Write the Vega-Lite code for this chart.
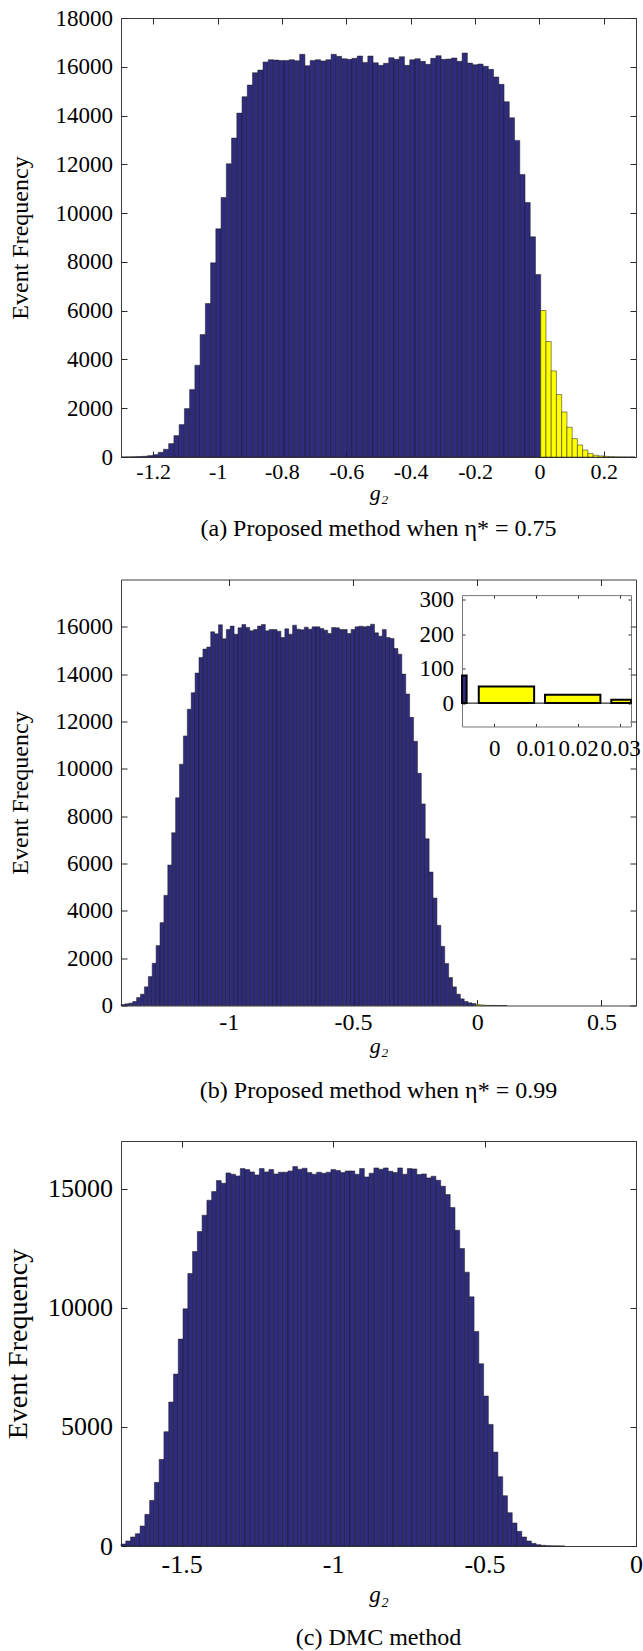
{
"$schema": "https://vega.github.io/schema/vega-lite/v6.json",
"background": "white",
"padding": {"left": 3, "top": 6, "right": 0, "bottom": 0},
"spacing": 36.5,
"config": {
  "view": {"stroke": "#3c3c3c", "strokeWidth": 1},
  "axis": {"grid": false, "domain": false, "ticks": true, "tickSize": -6, "tickColor": "#2a2a2a", "tickWidth": 1, "labelFont": "Liberation Serif", "labelColor": "#000", "titleFont": "Liberation Serif", "titleFontWeight": "normal", "titleColor": "#000", "labelFlush": false, "labelOverlap": false, "zindex": 1},
  "title": {"font": "Liberation Serif", "fontWeight": "normal", "color": "#000"}
},
"datasets": {
"pa": [
{"a":-1.2984,"b":-1.2821,"n":3,"c":"neg"},{"a":-1.2821,"b":-1.2658,"n":6,"c":"neg"},{"a":-1.2658,"b":-1.2496,"n":12,"c":"neg"},{"a":-1.2496,"b":-1.2333,"n":20,"c":"neg"},{"a":-1.2333,"b":-1.2170,"n":30,"c":"neg"},
{"a":-1.2170,"b":-1.2007,"n":57,"c":"neg"},{"a":-1.2007,"b":-1.1844,"n":98,"c":"neg"},{"a":-1.1844,"b":-1.1682,"n":193,"c":"neg"},{"a":-1.1682,"b":-1.1519,"n":316,"c":"neg"},{"a":-1.1519,"b":-1.1356,"n":549,"c":"neg"},
{"a":-1.1356,"b":-1.1193,"n":877,"c":"neg"},{"a":-1.1193,"b":-1.1030,"n":1328,"c":"neg"},{"a":-1.1030,"b":-1.0868,"n":1985,"c":"neg"},{"a":-1.0868,"b":-1.0705,"n":2764,"c":"neg"},{"a":-1.0705,"b":-1.0542,"n":3762,"c":"neg"},
{"a":-1.0542,"b":-1.0379,"n":5020,"c":"neg"},{"a":-1.0379,"b":-1.0216,"n":6292,"c":"neg"},{"a":-1.0216,"b":-1.0054,"n":7960,"c":"neg"},{"a":-1.0054,"b":-0.9891,"n":9355,"c":"neg"},{"a":-0.9891,"b":-0.9728,"n":10640,"c":"neg"},
{"a":-0.9728,"b":-0.9565,"n":12023,"c":"neg"},{"a":-0.9565,"b":-0.9402,"n":13077,"c":"neg"},{"a":-0.9402,"b":-0.9240,"n":14100,"c":"neg"},{"a":-0.9240,"b":-0.9077,"n":14772,"c":"neg"},{"a":-0.9077,"b":-0.8914,"n":15250,"c":"neg"},
{"a":-0.8914,"b":-0.8751,"n":15756,"c":"neg"},{"a":-0.8751,"b":-0.8588,"n":15865,"c":"neg"},{"a":-0.8588,"b":-0.8426,"n":16195,"c":"neg"},{"a":-0.8426,"b":-0.8263,"n":16290,"c":"neg"},{"a":-0.8263,"b":-0.8100,"n":16275,"c":"neg"},
{"a":-0.8100,"b":-0.7937,"n":16260,"c":"neg"},{"a":-0.7937,"b":-0.7774,"n":16260,"c":"neg"},{"a":-0.7774,"b":-0.7612,"n":16290,"c":"neg"},{"a":-0.7612,"b":-0.7449,"n":16250,"c":"neg"},{"a":-0.7449,"b":-0.7286,"n":16510,"c":"neg"},
{"a":-0.7286,"b":-0.7123,"n":16045,"c":"neg"},{"a":-0.7123,"b":-0.6960,"n":16260,"c":"neg"},{"a":-0.6960,"b":-0.6798,"n":16290,"c":"neg"},{"a":-0.6798,"b":-0.6635,"n":16235,"c":"neg"},{"a":-0.6635,"b":-0.6472,"n":16290,"c":"neg"},
{"a":-0.6472,"b":-0.6309,"n":16510,"c":"neg"},{"a":-0.6309,"b":-0.6146,"n":16428,"c":"neg"},{"a":-0.6146,"b":-0.5984,"n":16330,"c":"neg"},{"a":-0.5984,"b":-0.5821,"n":16305,"c":"neg"},{"a":-0.5821,"b":-0.5658,"n":16345,"c":"neg"},
{"a":-0.5658,"b":-0.5495,"n":16440,"c":"neg"},{"a":-0.5495,"b":-0.5332,"n":16180,"c":"neg"},{"a":-0.5332,"b":-0.5170,"n":16440,"c":"neg"},{"a":-0.5170,"b":-0.5007,"n":16165,"c":"neg"},{"a":-0.5007,"b":-0.4844,"n":16058,"c":"neg"},
{"a":-0.4844,"b":-0.4681,"n":16140,"c":"neg"},{"a":-0.4681,"b":-0.4518,"n":16371,"c":"neg"},{"a":-0.4518,"b":-0.4356,"n":16304,"c":"neg"},{"a":-0.4356,"b":-0.4193,"n":16412,"c":"neg"},{"a":-0.4193,"b":-0.4030,"n":16058,"c":"neg"},
{"a":-0.4030,"b":-0.3867,"n":16290,"c":"neg"},{"a":-0.3867,"b":-0.3704,"n":16330,"c":"neg"},{"a":-0.3704,"b":-0.3542,"n":16222,"c":"neg"},{"a":-0.3542,"b":-0.3379,"n":16100,"c":"neg"},{"a":-0.3379,"b":-0.3216,"n":16345,"c":"neg"},
{"a":-0.3216,"b":-0.3053,"n":16453,"c":"neg"},{"a":-0.3053,"b":-0.2890,"n":16304,"c":"neg"},{"a":-0.2890,"b":-0.2728,"n":16318,"c":"neg"},{"a":-0.2728,"b":-0.2565,"n":16360,"c":"neg"},{"a":-0.2565,"b":-0.2402,"n":16222,"c":"neg"},
{"a":-0.2402,"b":-0.2239,"n":16564,"c":"neg"},{"a":-0.2239,"b":-0.2076,"n":16150,"c":"neg"},{"a":-0.2076,"b":-0.1914,"n":16085,"c":"neg"},{"a":-0.1914,"b":-0.1751,"n":16112,"c":"neg"},{"a":-0.1751,"b":-0.1588,"n":16018,"c":"neg"},
{"a":-0.1588,"b":-0.1425,"n":15894,"c":"neg"},{"a":-0.1425,"b":-0.1262,"n":15579,"c":"neg"},{"a":-0.1262,"b":-0.1100,"n":15279,"c":"neg"},{"a":-0.1100,"b":-0.0937,"n":14566,"c":"neg"},{"a":-0.0937,"b":-0.0774,"n":13909,"c":"neg"},
{"a":-0.0774,"b":-0.0611,"n":12982,"c":"neg"},{"a":-0.0611,"b":-0.0448,"n":11587,"c":"neg"},{"a":-0.0448,"b":-0.0286,"n":10438,"c":"neg"},{"a":-0.0286,"b":-0.0123,"n":9027,"c":"neg"},{"a":-0.0123,"b":0.0040,"n":7484,"c":"neg"},
{"a":0.0040,"b":0.0203,"n":6007,"c":"pos"},{"a":0.0203,"b":0.0366,"n":4735,"c":"pos"},{"a":0.0366,"b":0.0528,"n":3529,"c":"pos"},{"a":0.0528,"b":0.0691,"n":2560,"c":"pos"},{"a":0.0691,"b":0.0854,"n":1846,"c":"pos"},
{"a":0.0854,"b":0.1017,"n":1219,"c":"pos"},{"a":0.1017,"b":0.1180,"n":755,"c":"pos"},{"a":0.1180,"b":0.1342,"n":492,"c":"pos"},{"a":0.1342,"b":0.1505,"n":287,"c":"pos"},{"a":0.1505,"b":0.1668,"n":140,"c":"pos"},
{"a":0.1668,"b":0.1831,"n":70,"c":"pos"},{"a":0.1831,"b":0.1994,"n":45,"c":"pos"},{"a":0.1994,"b":0.2156,"n":25,"c":"pos"},{"a":0.2156,"b":0.2319,"n":15,"c":"pos"},{"a":0.2319,"b":0.2482,"n":8,"c":"pos"},
{"a":0.2482,"b":0.2645,"n":5,"c":"pos"},{"a":0.2645,"b":0.2808,"n":3,"c":"pos"},{"a":0.2808,"b":0.2970,"n":2,"c":"pos"}
],
"pb": [
{"a":-1.4340,"b":-1.4183,"n":42,"c":"neg"},{"a":-1.4183,"b":-1.4026,"n":70,"c":"neg"},{"a":-1.4026,"b":-1.3869,"n":98,"c":"neg"},{"a":-1.3869,"b":-1.3712,"n":169,"c":"neg"},{"a":-1.3712,"b":-1.3555,"n":337,"c":"neg"},
{"a":-1.3555,"b":-1.3398,"n":478,"c":"neg"},{"a":-1.3398,"b":-1.3241,"n":787,"c":"neg"},{"a":-1.3241,"b":-1.3084,"n":1223,"c":"neg"},{"a":-1.3084,"b":-1.2927,"n":1786,"c":"neg"},{"a":-1.2927,"b":-1.2770,"n":2531,"c":"neg"},
{"a":-1.2770,"b":-1.2613,"n":3501,"c":"neg"},{"a":-1.2613,"b":-1.2456,"n":4654,"c":"neg"},{"a":-1.2456,"b":-1.2299,"n":5934,"c":"neg"},{"a":-1.2299,"b":-1.2142,"n":7298,"c":"neg"},{"a":-1.2142,"b":-1.1985,"n":8775,"c":"neg"},
{"a":-1.1985,"b":-1.1828,"n":10195,"c":"neg"},{"a":-1.1828,"b":-1.1671,"n":11390,"c":"neg"},{"a":-1.1671,"b":-1.1514,"n":12515,"c":"neg"},{"a":-1.1514,"b":-1.1357,"n":13217,"c":"neg"},{"a":-1.1357,"b":-1.1200,"n":14047,"c":"neg"},
{"a":-1.1200,"b":-1.1043,"n":14708,"c":"neg"},{"a":-1.1043,"b":-1.0886,"n":15060,"c":"neg"},{"a":-1.0886,"b":-1.0729,"n":15144,"c":"neg"},{"a":-1.0729,"b":-1.0572,"n":15790,"c":"neg"},{"a":-1.0572,"b":-1.0415,"n":15705,"c":"neg"},
{"a":-1.0415,"b":-1.0258,"n":16085,"c":"neg"},{"a":-1.0258,"b":-1.0101,"n":15494,"c":"neg"},{"a":-1.0101,"b":-0.9944,"n":15888,"c":"neg"},{"a":-0.9944,"b":-0.9787,"n":16030,"c":"neg"},{"a":-0.9787,"b":-0.9630,"n":15691,"c":"neg"},
{"a":-0.9630,"b":-0.9473,"n":15958,"c":"neg"},{"a":-0.9473,"b":-0.9316,"n":16100,"c":"neg"},{"a":-0.9316,"b":-0.9159,"n":15972,"c":"neg"},{"a":-0.9159,"b":-0.9002,"n":15832,"c":"neg"},{"a":-0.9002,"b":-0.8845,"n":15888,"c":"neg"},
{"a":-0.8845,"b":-0.8688,"n":16030,"c":"neg"},{"a":-0.8688,"b":-0.8531,"n":16100,"c":"neg"},{"a":-0.8531,"b":-0.8374,"n":15832,"c":"neg"},{"a":-0.8374,"b":-0.8217,"n":15888,"c":"neg"},{"a":-0.8217,"b":-0.8060,"n":15888,"c":"neg"},
{"a":-0.8060,"b":-0.7903,"n":15818,"c":"neg"},{"a":-0.7903,"b":-0.7746,"n":15550,"c":"neg"},{"a":-0.7746,"b":-0.7589,"n":15916,"c":"neg"},{"a":-0.7589,"b":-0.7432,"n":15691,"c":"neg"},{"a":-0.7432,"b":-0.7275,"n":16070,"c":"neg"},
{"a":-0.7275,"b":-0.7118,"n":15902,"c":"neg"},{"a":-0.7118,"b":-0.6961,"n":15874,"c":"neg"},{"a":-0.6961,"b":-0.6804,"n":15986,"c":"neg"},{"a":-0.6804,"b":-0.6647,"n":15902,"c":"neg"},{"a":-0.6647,"b":-0.6490,"n":15999,"c":"neg"},
{"a":-0.6490,"b":-0.6333,"n":15999,"c":"neg"},{"a":-0.6333,"b":-0.6176,"n":15928,"c":"neg"},{"a":-0.6176,"b":-0.6019,"n":15858,"c":"neg"},{"a":-0.6019,"b":-0.5862,"n":15718,"c":"neg"},{"a":-0.5862,"b":-0.5705,"n":15971,"c":"neg"},
{"a":-0.5705,"b":-0.5548,"n":15957,"c":"neg"},{"a":-0.5548,"b":-0.5391,"n":15886,"c":"neg"},{"a":-0.5391,"b":-0.5234,"n":15886,"c":"neg"},{"a":-0.5234,"b":-0.5077,"n":15718,"c":"neg"},{"a":-0.5077,"b":-0.4920,"n":15886,"c":"neg"},
{"a":-0.4920,"b":-0.4763,"n":15999,"c":"neg"},{"a":-0.4763,"b":-0.4606,"n":16027,"c":"neg"},{"a":-0.4606,"b":-0.4449,"n":15999,"c":"neg"},{"a":-0.4449,"b":-0.4292,"n":16027,"c":"neg"},{"a":-0.4292,"b":-0.4135,"n":16111,"c":"neg"},
{"a":-0.4135,"b":-0.3978,"n":15746,"c":"neg"},{"a":-0.3978,"b":-0.3821,"n":15605,"c":"neg"},{"a":-0.3821,"b":-0.3664,"n":15886,"c":"neg"},{"a":-0.3664,"b":-0.3507,"n":15549,"c":"neg"},{"a":-0.3507,"b":-0.3350,"n":15506,"c":"neg"},
{"a":-0.3350,"b":-0.3193,"n":15084,"c":"neg"},{"a":-0.3193,"b":-0.3036,"n":14846,"c":"neg"},{"a":-0.3036,"b":-0.2879,"n":14004,"c":"neg"},{"a":-0.2879,"b":-0.2722,"n":13160,"c":"neg"},{"a":-0.2722,"b":-0.2565,"n":12175,"c":"neg"},
{"a":-0.2565,"b":-0.2408,"n":11162,"c":"neg"},{"a":-0.2408,"b":-0.2251,"n":9812,"c":"neg"},{"a":-0.2251,"b":-0.2094,"n":8519,"c":"neg"},{"a":-0.2094,"b":-0.1937,"n":7044,"c":"neg"},{"a":-0.1937,"b":-0.1780,"n":5638,"c":"neg"},
{"a":-0.1780,"b":-0.1623,"n":4540,"c":"neg"},{"a":-0.1623,"b":-0.1466,"n":3387,"c":"neg"},{"a":-0.1466,"b":-0.1309,"n":2501,"c":"neg"},{"a":-0.1309,"b":-0.1152,"n":1772,"c":"neg"},{"a":-0.1152,"b":-0.0995,"n":1181,"c":"neg"},
{"a":-0.0995,"b":-0.0838,"n":786,"c":"neg"},{"a":-0.0838,"b":-0.0681,"n":478,"c":"neg"},{"a":-0.0681,"b":-0.0524,"n":280,"c":"neg"},{"a":-0.0524,"b":-0.0367,"n":169,"c":"neg"},{"a":-0.0367,"b":-0.0210,"n":112,"c":"neg"},
{"a":-0.0210,"b":-0.0053,"n":80,"c":"neg"},{"a":-0.0053,"b":0.0104,"n":48,"c":"pos"},{"a":0.0104,"b":0.0261,"n":24,"c":"pos"},{"a":0.0261,"b":0.0418,"n":10,"c":"pos"},{"a":0.0418,"b":0.0575,"n":5,"c":"pos"},
{"a":0.0575,"b":0.0732,"n":3,"c":"pos"},{"a":0.0732,"b":0.0889,"n":2,"c":"pos"},{"a":0.0889,"b":0.1046,"n":1,"c":"pos"},{"a":0.1046,"b":0.1203,"n":1,"c":"pos"}
],
"inset": [
{"a":-0.0198,"b":-0.0066,"n":80,"c":"neg"},{"a":-0.0037,"b":0.0095,"n":48,"c":"pos"},{"a":0.0121,"b":0.0253,"n":24,"c":"pos"},{"a":0.0279,"b":0.0411,"n":10,"c":"pos"}
],
"pc": [
{"a":-1.7000,"b":-1.6843,"n":84},{"a":-1.6843,"b":-1.6685,"n":210},{"a":-1.6685,"b":-1.6528,"n":378},{"a":-1.6528,"b":-1.6370,"n":517},{"a":-1.6370,"b":-1.6213,"n":839},
{"a":-1.6213,"b":-1.6055,"n":1328},{"a":-1.6055,"b":-1.5898,"n":1915},{"a":-1.5898,"b":-1.5740,"n":2671},{"a":-1.5740,"b":-1.5583,"n":3636},{"a":-1.5583,"b":-1.5425,"n":4797},
{"a":-1.5425,"b":-1.5268,"n":6041},{"a":-1.5268,"b":-1.5110,"n":7215},{"a":-1.5110,"b":-1.4953,"n":8684},{"a":-1.4953,"b":-1.4795,"n":9956},{"a":-1.4795,"b":-1.4638,"n":11438},
{"a":-1.4638,"b":-1.4480,"n":12361},{"a":-1.4480,"b":-1.4323,"n":13200},{"a":-1.4323,"b":-1.4165,"n":13885},{"a":-1.4165,"b":-1.4008,"n":14515},{"a":-1.4008,"b":-1.3850,"n":14878},
{"a":-1.3850,"b":-1.3693,"n":15340},{"a":-1.3693,"b":-1.3535,"n":15228},{"a":-1.3535,"b":-1.3378,"n":15662},{"a":-1.3378,"b":-1.3220,"n":15605},{"a":-1.3220,"b":-1.3063,"n":15536},
{"a":-1.3063,"b":-1.2905,"n":15843},{"a":-1.2905,"b":-1.2748,"n":15800},{"a":-1.2748,"b":-1.2590,"n":15703},{"a":-1.2590,"b":-1.2433,"n":15578},{"a":-1.2433,"b":-1.2275,"n":15843},
{"a":-1.2275,"b":-1.2118,"n":15703},{"a":-1.2118,"b":-1.1960,"n":15800},{"a":-1.1960,"b":-1.1803,"n":15620},{"a":-1.1803,"b":-1.1645,"n":15690},{"a":-1.1645,"b":-1.1488,"n":15690},
{"a":-1.1488,"b":-1.1330,"n":15745},{"a":-1.1330,"b":-1.1173,"n":15927},{"a":-1.1173,"b":-1.1015,"n":15815},{"a":-1.1015,"b":-1.0858,"n":15857},{"a":-1.0858,"b":-1.0700,"n":15675},
{"a":-1.0700,"b":-1.0543,"n":15605},{"a":-1.0543,"b":-1.0385,"n":15690},{"a":-1.0385,"b":-1.0228,"n":15648},{"a":-1.0228,"b":-1.0070,"n":15690},{"a":-1.0070,"b":-0.9913,"n":15800},
{"a":-0.9913,"b":-0.9755,"n":15760},{"a":-0.9755,"b":-0.9598,"n":15675},{"a":-0.9598,"b":-0.9440,"n":15745},{"a":-0.9440,"b":-0.9283,"n":15745},{"a":-0.9283,"b":-0.9125,"n":15605},
{"a":-0.9125,"b":-0.8968,"n":15843},{"a":-0.8968,"b":-0.8810,"n":15492},{"a":-0.8810,"b":-0.8653,"n":15647},{"a":-0.8653,"b":-0.8495,"n":15870},{"a":-0.8495,"b":-0.8338,"n":15815},
{"a":-0.8338,"b":-0.8180,"n":15870},{"a":-0.8180,"b":-0.8023,"n":15731},{"a":-0.8023,"b":-0.7865,"n":15675},{"a":-0.7865,"b":-0.7708,"n":15870},{"a":-0.7708,"b":-0.7550,"n":15605},
{"a":-0.7550,"b":-0.7393,"n":15843},{"a":-0.7393,"b":-0.7235,"n":15829},{"a":-0.7235,"b":-0.7078,"n":15592},{"a":-0.7078,"b":-0.6920,"n":15620},{"a":-0.6920,"b":-0.6763,"n":15452},
{"a":-0.6763,"b":-0.6605,"n":15522},{"a":-0.6605,"b":-0.6448,"n":15354},{"a":-0.6448,"b":-0.6290,"n":15103},{"a":-0.6290,"b":-0.6133,"n":14753},{"a":-0.6133,"b":-0.5975,"n":14207},
{"a":-0.5975,"b":-0.5818,"n":13256},{"a":-0.5818,"b":-0.5660,"n":12487},{"a":-0.5660,"b":-0.5503,"n":11494},{"a":-0.5503,"b":-0.5345,"n":10459},{"a":-0.5345,"b":-0.5188,"n":9005},
{"a":-0.5188,"b":-0.5030,"n":7649},{"a":-0.5030,"b":-0.4873,"n":6292},{"a":-0.4873,"b":-0.4715,"n":5104},{"a":-0.4715,"b":-0.4558,"n":3943},{"a":-0.4558,"b":-0.4400,"n":2909},
{"a":-0.4400,"b":-0.4243,"n":2111},{"a":-0.4243,"b":-0.4085,"n":1398},{"a":-0.4085,"b":-0.3928,"n":965},{"a":-0.3928,"b":-0.3770,"n":615},{"a":-0.3770,"b":-0.3613,"n":378},
{"a":-0.3613,"b":-0.3455,"n":210},{"a":-0.3455,"b":-0.3298,"n":112},{"a":-0.3298,"b":-0.3140,"n":56},{"a":-0.3140,"b":-0.2983,"n":28},{"a":-0.2983,"b":-0.2825,"n":14},
{"a":-0.2825,"b":-0.2668,"n":7},{"a":-0.2668,"b":-0.2510,"n":3},{"a":-0.2510,"b":-0.2353,"n":1}
]
},
"vconcat": [
{
  "width": 515, "height": 439,
  "data": {"name": "pa"},
  "title": {"text": "(a) Proposed method when η* = 0.75", "orient": "bottom", "frame": "group", "anchor": "middle", "fontSize": 24, "offset": 14.2},
  "layer": [
    {
      "mark": {"type": "bar", "stroke": "#1c1c1c", "strokeWidth": 0.5},
      "encoding": {
        "x": {"field": "a", "type": "quantitative", "scale": {"domain": [-1.3, 0.3], "nice": false, "zero": false},
          "axis": {"orient": "bottom", "values": [-1.2, -1, -0.8, -0.6, -0.4, -0.2, 0, 0.2], "labelExpr": "'' + datum.value", "labelFontSize": 22, "labelPadding": 10, "title": "g₂", "titleFontSize": 22, "titleFontStyle": "italic", "titlePadding": 0}},
        "x2": {"field": "b"},
        "y": {"field": "n", "type": "quantitative", "stack": null, "scale": {"domain": [0, 18000], "nice": false},
          "axis": {"orient": "left", "values": [0, 2000, 4000, 6000, 8000, 10000, 12000, 14000, 16000, 18000], "labelExpr": "'' + datum.value", "labelFontSize": 23, "labelPadding": 14.5, "title": "Event Frequency", "titleFontSize": 24, "titlePadding": 23}},
        "y2": {"datum": 0},
        "color": {"field": "c", "type": "nominal", "scale": {"domain": ["neg", "pos"], "range": ["#2f2b7d", "#ffff00"]}, "legend": null}
      }
    },
    {
      "mark": {"type": "bar", "opacity": 0},
      "encoding": {
        "x": {"field": "a", "type": "quantitative", "axis": {"orient": "top", "values": [-1.2, -1, -0.8, -0.6, -0.4, -0.2, 0, 0.2], "labels": false, "title": null}},
        "x2": {"field": "b"},
        "y": {"field": "n", "type": "quantitative", "stack": null, "axis": {"orient": "right", "values": [0, 2000, 4000, 6000, 8000, 10000, 12000, 14000, 16000, 18000], "labels": false, "title": null}},
        "y2": {"datum": 0}
      }
    }
  ],
  "resolve": {"axis": {"x": "independent", "y": "independent"}}
},
{
  "width": 515, "height": 426,
  "title": {"text": "(b) Proposed method when η* = 0.99", "orient": "bottom", "frame": "group", "anchor": "middle", "fontSize": 24, "offset": 22.1},
  "layer": [
    {
      "data": {"name": "pb"},
      "layer": [
        {
          "mark": {"type": "bar", "stroke": "#1c1c1c", "strokeWidth": 0.5},
          "encoding": {
            "x": {"field": "a", "type": "quantitative", "scale": {"domain": [-1.434, 0.639], "nice": false, "zero": false},
              "axis": {"orient": "bottom", "values": [-1, -0.5, 0, 0.5], "labelExpr": "'' + datum.value", "labelFontSize": 24, "labelPadding": 10.6, "title": "g₂", "titleFontSize": 22, "titleFontStyle": "italic", "titlePadding": 1.6}},
            "x2": {"field": "b"},
            "y": {"field": "n", "type": "quantitative", "stack": null, "scale": {"domain": [0, 18000], "nice": false},
              "axis": {"orient": "left", "values": [0, 2000, 4000, 6000, 8000, 10000, 12000, 14000, 16000], "labelExpr": "'' + datum.value", "labelFontSize": 23, "labelPadding": 14.5, "title": "Event Frequency", "titleFontSize": 24, "titlePadding": 23}},
            "y2": {"datum": 0},
            "color": {"field": "c", "type": "nominal", "scale": {"domain": ["neg", "pos"], "range": ["#2f2b7d", "#ffff00"]}, "legend": null}
          }
        },
        {
          "mark": {"type": "bar", "opacity": 0},
          "encoding": {
            "x": {"field": "a", "type": "quantitative", "axis": {"orient": "top", "values": [-1, -0.5, 0, 0.5], "labels": false, "title": null}},
            "x2": {"field": "b"},
            "y": {"field": "n", "type": "quantitative", "stack": null, "axis": {"orient": "right", "values": [0, 2000, 4000, 6000, 8000, 10000, 12000, 14000, 16000], "labels": false, "title": null}},
            "y2": {"datum": 0}
          }
        }
      ],
      "resolve": {"axis": {"x": "independent", "y": "independent"}}
    },
    {
      "data": {"name": "inset"},
      "layer": [
        {
          "mark": {"type": "rule", "color": "#000", "strokeWidth": 1},
          "data": {"values": [{"lo": -0.0077, "hi": 0.0326, "zero": 0}]},
          "encoding": {
            "x": {"field": "lo", "type": "quantitative", "scale": {"domain": [-0.0077, 0.0326], "range": [341, 510], "clamp": true, "nice": false, "zero": false}, "axis": null},
            "x2": {"field": "hi"},
            "y": {"field": "zero", "type": "quantitative", "scale": {"domain": [-68, 314], "range": [147, 15.6], "clamp": true, "nice": false, "zero": false}, "axis": null}
          }
        },
        {
          "mark": {"type": "bar", "stroke": "#000", "strokeWidth": 2},
          "encoding": {
            "x": {"field": "a", "type": "quantitative", "scale": {"domain": [-0.0077, 0.0326], "range": [341, 510], "clamp": true, "nice": false, "zero": false},
              "axis": {"orient": "bottom", "offset": -279, "values": [0, 0.01, 0.02, 0.03], "labelExpr": "'' + datum.value", "labelFontSize": 23, "labelPadding": 14, "tickSize": -3, "domain": true, "domainColor": "#777", "title": null}},
            "x2": {"field": "b"},
            "y": {"field": "n", "type": "quantitative", "stack": null, "scale": {"domain": [-68, 314], "range": [147, 15.6], "clamp": true, "nice": false, "zero": false},
              "axis": {"orient": "left", "offset": -341, "values": [0, 100, 200, 300], "labelExpr": "'' + datum.value", "labelFontSize": 23, "labelPadding": 11.5, "tickSize": -3, "domain": true, "domainColor": "#777", "title": null}},
            "y2": {"datum": 0},
            "color": {"field": "c", "type": "nominal", "scale": {"domain": ["neg", "pos"], "range": ["#2f2b7d", "#ffff00"]}, "legend": null}
          }
        },
        {
          "mark": {"type": "bar", "opacity": 0},
          "encoding": {
            "x": {"field": "a", "type": "quantitative", "axis": {"orient": "top", "offset": -15.6, "values": [0, 0.01, 0.02, 0.03], "labels": false, "tickSize": -3, "domain": true, "domainColor": "#777", "title": null}},
            "x2": {"field": "b"},
            "y": {"field": "n", "type": "quantitative", "stack": null, "axis": {"orient": "right", "offset": -5, "values": [0, 100, 200, 300], "labels": false, "tickSize": -3, "domain": true, "domainColor": "#777", "title": null}},
            "y2": {"datum": 0}
          }
        }
      ],
      "resolve": {"axis": {"x": "independent", "y": "independent"}}
    }
  ],
  "resolve": {"scale": {"x": "independent", "y": "independent", "color": "shared"}, "axis": {"x": "independent", "y": "independent"}}
},
{
  "width": 515, "height": 405,
  "data": {"name": "pc"},
  "title": {"text": "(c) DMC method", "orient": "bottom", "frame": "group", "anchor": "middle", "fontSize": 24, "offset": 19.4},
  "layer": [
    {
      "mark": {"type": "bar", "stroke": "#1c1c1c", "strokeWidth": 0.5, "color": "#2f2b7d"},
      "encoding": {
        "x": {"field": "a", "type": "quantitative", "scale": {"domain": [-1.7, 0], "nice": false, "zero": false},
          "axis": {"orient": "bottom", "values": [-1.5, -1, -0.5, 0], "labelExpr": "'' + datum.value", "labelFontSize": 26, "labelPadding": 11, "title": "g₂", "titleFontSize": 23, "titleFontStyle": "italic", "titlePadding": 6.9}},
        "x2": {"field": "b"},
        "y": {"field": "n", "type": "quantitative", "stack": null, "scale": {"domain": [0, 17000], "nice": false},
          "axis": {"orient": "left", "values": [0, 5000, 10000, 15000], "labelExpr": "'' + datum.value", "labelFontSize": 26, "labelPadding": 14.5, "title": "Event Frequency", "titleFontSize": 28, "titlePadding": 15.5}},
        "y2": {"datum": 0}
      }
    },
    {
      "mark": {"type": "bar", "opacity": 0},
      "encoding": {
        "x": {"field": "a", "type": "quantitative", "axis": {"orient": "top", "values": [-1.5, -1, -0.5, 0], "labels": false, "title": null}},
        "x2": {"field": "b"},
        "y": {"field": "n", "type": "quantitative", "stack": null, "axis": {"orient": "right", "values": [0, 5000, 10000, 15000], "labels": false, "title": null}},
        "y2": {"datum": 0}
      }
    }
  ],
  "resolve": {"axis": {"x": "independent", "y": "independent"}}
}
]
}
